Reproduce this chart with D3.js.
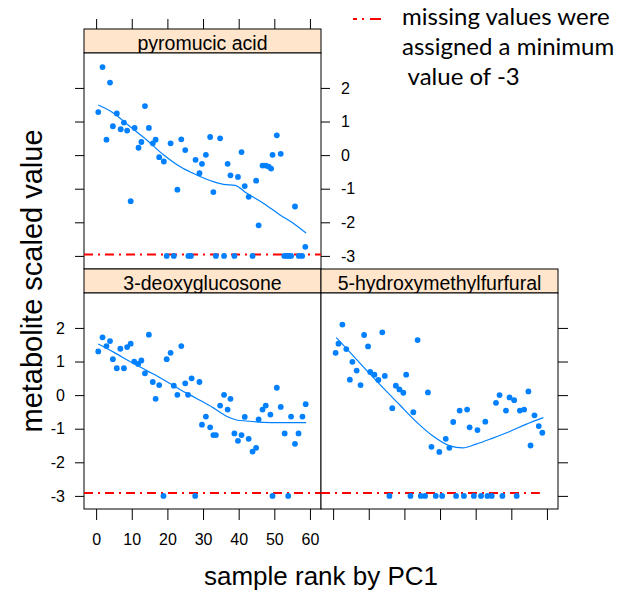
<!DOCTYPE html>
<html>
<head>
<meta charset="utf-8">
<script src="https://cdn.jsdelivr.net/npm/d3@7"></script>
<style>
  body { margin: 0; background: #fff; }
  svg text { font-family: "Liberation Sans", Arial, sans-serif; }
</style>
</head>
<body>
<div id="chart"></div>
<script>
// panel titles (lattice strips)
var panelNames = ["pyromucic acid", "3-deoxyglucosone", "5-hydroxymethylfurfural"];

// [sample rank, scaled value]; -3 = missing
var pyromucicPoints = [[0.6,1.28],[1.8,2.62],[2.9,0.46],[3.9,2.16],[4.7,0.86],[5.8,1.24],[6.9,0.77],[7.8,0.97],[8.7,0.73],[9.7,-1.37],
  [10.8,0.81],[11.9,0.22],[12.7,0.39],[13.7,1.46],[14.8,0.81],[15.9,0.35],[16.7,0.46],[17.7,-0.06],[19.0,-0.19],[19.8,-3],
  [20.9,0.35],[21.8,-3],[22.8,-1.03],[23.9,0.47],[25.0,0.15],[25.9,-3],[26.6,-3],[27.9,-0.14],[29.0,-0.54],[29.7,-0.26],
  [30.8,0.01],[32.0,0.54],[32.9,-1.10],[33.6,-3],[34.8,0.50],[35.9,-3],[36.9,-0.26],[37.7,-0.60],[38.8,-3],[39.8,-0.65],
  [40.8,0.09],[41.7,-0.92],[42.8,-1.24],[43.9,-3],[44.9,-0.76],[45.6,-2.09],[46.7,-0.31],[47.6,-0.31],[48.4,-0.34],[49.1,-0.40],
  [49.5,0.01],[50.7,0.59],[51.8,0.04],[52.8,-3],[53.5,-3],[54.1,-3],[54.7,-3],[55.8,-1.53],[56.9,-3],[57.8,-3],[58.7,-2.73]];

var deoxyPoints = [[0.6,1.30],[1.8,1.72],[2.9,1.46],[3.9,1.61],[4.7,1.07],[5.8,0.80],[6.8,1.38],[7.8,0.80],[8.7,1.43],[9.7,1.53],
  [10.7,1.00],[11.8,0.93],[12.7,1.03],[13.7,0.65],[14.8,1.80],[15.9,0.39],[16.7,-0.11],[17.7,0.30],[18.9,-3],[19.8,1.07],
  [20.9,1.26],[21.8,0.28],[22.8,0.01],[23.9,1.46],[25.0,0.35],[25.8,0.01],[26.8,0.50],[27.8,-3],[29.0,0.39],[29.7,-0.88],
  [30.8,-0.64],[32.0,-0.96],[32.9,-1.19],[33.6,-1.19],[34.8,-0.31],[35.9,0.01],[36.9,-0.43],[37.7,-0.11],[38.8,-1.14],[39.8,-1.36],
  [40.8,-1.19],[41.7,-0.65],[42.8,-1.30],[43.9,-1.68],[44.9,-1.57],[45.6,-0.72],[46.7,-0.43],[47.6,-0.31],[48.9,-0.58],[49.5,-3],
  [50.7,0.22],[51.8,-0.35],[52.9,-1.14],[53.9,-3],[54.7,-0.64],[55.8,-1.45],[56.8,-1.14],[57.9,-0.64],[58.8,-0.27]];

var hmfPoints = [[0.7,1.26],[1.5,1.53],[2.6,2.10],[3.7,1.37],[4.7,0.46],[5.4,0.99],[6.6,0.73],[7.7,0.30],[8.7,1.79],[9.8,1.45],
  [10.4,0.69],[11.6,0.61],[12.7,0.45],[13.8,1.87],[14.5,0.57],[15.8,-3],[16.6,-0.39],[17.6,0.28],[18.6,0.17],[19.7,0.07],
  [20.5,0.61],[21.7,-3],[22.5,-0.51],[23.7,1.64],[24.6,-3],[25.8,-3],[26.6,0.08],[27.6,-1.54],[28.8,-3],[29.8,-1.69],
  [30.6,-3],[31.6,-1.30],[32.6,-1.57],[33.7,-0.80],[34.5,-3],[35.5,-0.46],[36.7,-3],[37.6,-0.43],[38.3,-0.96],[39.5,-3],
  [40.5,-1.04],[41.5,-3],[42.7,-0.79],[43.3,-3],[44.5,-3],[45.7,-0.23],[46.7,0.00],[47.5,-3],[48.5,-0.46],[49.5,-0.07],
  [50.8,-0.15],[51.5,-3],[52.4,-0.46],[53.6,-0.43],[54.8,0.11],[55.4,-1.50],[56.5,-0.60],[57.7,-0.92],[58.7,-1.12]];

// smoother lines
var pyromucicFit = [[0.6,1.49],[4.9,1.25],[9.5,0.85],[14.2,0.45],[18.9,0.01],[23.5,-0.34],[28.2,-0.59],[32.9,-0.79],
  [35.7,-0.87],[39.0,-0.90],[42.2,-1.13],[46.9,-1.43],[51.6,-1.78],[55.3,-2.03],[58.9,-2.32]];
var deoxyFit = [[0.6,1.52],[4.9,1.28],[9.5,1.00],[14.2,0.73],[18.9,0.46],[23.5,0.17],[28.2,-0.10],[32.9,-0.38],
  [36.6,-0.63],[39.4,-0.74],[42.2,-0.77],[46.9,-0.81],[51.6,-0.82],[58.9,-0.82]];
var hmfFit = [[0.9,1.71],[4.5,1.30],[9.2,0.76],[13.9,0.23],[18.6,-0.28],[23.3,-0.79],[28.0,-1.22],[32.7,-1.51],
  [36.4,-1.57],[40.1,-1.46],[44.8,-1.28],[49.4,-1.09],[54.1,-0.87],[59.0,-0.67]];

var xTicks = [0, 10, 20, 30, 40, 50, 60];
var yTicks = [-3, -2, -1, 0, 1, 2];

// red "missing value" reference line: level and right end, per panel
var missingLevel = [-2.96, -2.91, -2.91];
var missingEnd = [63.1, 63.1, 58];

var legendLines = ["missing values were", "assigned a minimum", "\u00a0value of -3"];

var width = 640, height = 595;
var svg = d3.select("#chart").append("svg")
    .attr("width", width)
    .attr("height", height)
    .style("background", "#fff");

var panelW = 237, stripH = 24, plotH = 216;
var marginLeft = 84, marginTop = 29;
var panels = [
  {name: panelNames[0], pts: pyromucicPoints, fit: pyromucicFit, col: 0, row: 0},
  {name: panelNames[1], pts: deoxyPoints, fit: deoxyFit, col: 0, row: 1},
  {name: panelNames[2], pts: hmfPoints, fit: hmfFit, col: 1, row: 1}
];

var x = d3.scaleLinear().domain([-3.4, 63.1]).range([0, panelW]);
var y = d3.scaleLinear().domain([-3.39, 3.04]).range([plotH, 0]);
var fmt = function(d){ return String(d); };  // plain hyphen minus like R

var line = d3.line()
    .x(function(d){ return x(d[0]); })
    .y(function(d){ return y(d[1]); })
    .curve(d3.curveMonotoneX);

function styleAxis(g) {
  g.select(".domain").remove();
  g.selectAll(".tick line").attr("stroke", "#000");
  g.selectAll(".tick text").attr("fill", "#000");
  g.attr("font-size", 16).attr("font-family", "Liberation Sans, Arial, sans-serif");
}

panels.forEach(function(p, i) {
  var g = svg.append("g")
      .attr("transform", "translate(" + (marginLeft + p.col * panelW) + "," + (marginTop + p.row * (stripH + plotH)) + ")");

  // strip
  g.append("rect")
      .attr("width", panelW).attr("height", stripH)
      .attr("fill", "#ffe5cc").attr("stroke", "#000");
  g.append("text")
      .attr("x", panelW / 2).attr("y", 21)
      .attr("text-anchor", "middle")
      .attr("font-size", 19.5)
      .text(p.name);

  var plot = g.append("g").attr("transform", "translate(0," + stripH + ")");
  plot.append("rect")
      .attr("width", panelW).attr("height", plotH)
      .attr("fill", "#fff").attr("stroke", "#000");

  // red dash-dot line for missing values
  plot.append("line")
      .attr("x1", x(-3.4)).attr("x2", x(missingEnd[i]))
      .attr("y1", y(missingLevel[i])).attr("y2", y(missingLevel[i]))
      .attr("stroke", "#ff0000").attr("stroke-width", 2)
      .attr("stroke-dasharray", "9,5,2,5");

  plot.append("path")
      .datum(p.fit)
      .attr("d", line)
      .attr("fill", "none")
      .attr("stroke", "#0080ff")
      .attr("stroke-width", 1.2);

  plot.selectAll("circle")
    .data(p.pts)
    .enter()
    .append("circle")
      .attr("cx", function(d){ return x(d[0]); })
      .attr("cy", function(d){ return y(d[1]); })
      .attr("r", 2.9)
      .attr("fill", "#0080ff");

  // axes, lattice style alternating
  if (p.row == 0) {
    g.append("g").call(d3.axisTop(x).tickValues(xTicks).tickFormat("").tickSize(10).tickSizeOuter(0)).call(styleAxis);
    plot.append("g").call(d3.axisLeft(y).tickValues(yTicks).tickFormat("").tickSize(9).tickSizeOuter(0)).call(styleAxis);
    plot.append("g").attr("transform", "translate(" + panelW + ",0)")
        .call(d3.axisRight(y).tickValues(yTicks).tickFormat(fmt).tickSize(9).tickPadding(11).tickSizeOuter(0)).call(styleAxis);
  } else if (p.col == 0) {
    plot.append("g").call(d3.axisLeft(y).tickValues(yTicks).tickFormat(fmt).tickSize(9).tickPadding(10).tickSizeOuter(0)).call(styleAxis);
    plot.append("g").attr("transform", "translate(0," + plotH + ")")
        .call(d3.axisBottom(x).tickValues(xTicks).tickFormat(fmt).tickSize(11).tickPadding(14).tickSizeOuter(0)).call(styleAxis);
  } else {
    plot.append("g").attr("transform", "translate(" + panelW + ",0)")
        .call(d3.axisRight(y).tickValues(yTicks).tickFormat("").tickSize(10).tickSizeOuter(0)).call(styleAxis);
    plot.append("g").attr("transform", "translate(0," + plotH + ")")
        .call(d3.axisBottom(x).tickValues(xTicks).tickFormat("").tickSize(11).tickSizeOuter(0)).call(styleAxis);
  }
});

// axis titles
svg.append("text")
    .attr("transform", "translate(42,281) rotate(-90)")
    .attr("text-anchor", "middle")
    .attr("font-size", 29)
    .text("metabolite scaled value");

svg.append("text")
    .attr("x", 321).attr("y", 585)
    .attr("text-anchor", "middle")
    .attr("font-size", 26)
    .text("sample rank by PC1");

// legend
var legend = svg.append("g");
legend.append("line")
    .attr("x1", 353).attr("x2", 381)
    .attr("y1", 19).attr("y2", 19)
    .attr("stroke", "#ff0000").attr("stroke-width", 2)
    .attr("stroke-dasharray", "4,5,2,6,12");

legend.selectAll("text")
  .data(legendLines)
  .enter()
  .append("text")
    .attr("x", 402)
    .attr("y", function(d, i){ return 25 + i * 30; })
    .style("font-family", "Lato, 'Open Sans', sans-serif")
    .attr("font-size", 24)
    .text(function(d){ return d; });
</script>
</body>
</html>
